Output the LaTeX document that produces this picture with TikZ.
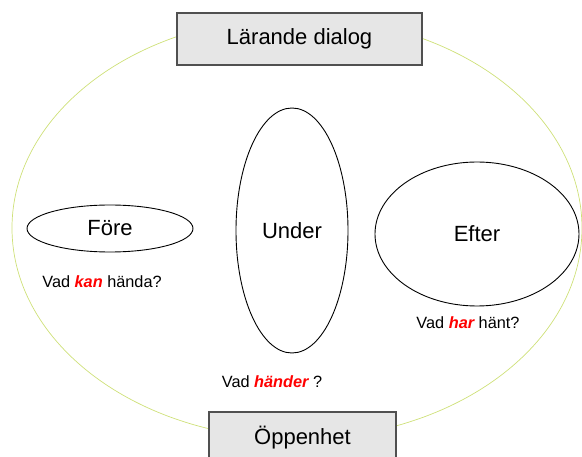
\documentclass[tikz,border=0pt]{standalone}
\usepackage{fontspec}
\setmainfont{Liberation Sans}
\usetikzlibrary{shapes.geometric}
\definecolor{ringgreen}{RGB}{206,224,120}
\definecolor{boxfill}{RGB}{230,230,230}
\definecolor{boxline}{RGB}{80,80,80}
\definecolor{hot}{RGB}{255,0,0}
\tikzset{
  ring/.style={draw=ringgreen, line width=0.7pt, ellipse, inner sep=0pt},
  phase/.style={draw=black, line width=0.9pt, ellipse, inner sep=0pt, font=\fontsize{22}{26}\selectfont},
  labelbox/.style={draw=boxline, fill=boxfill, line width=1.3pt, inner sep=0pt, font=\fontsize{22}{26}\selectfont},
  question/.style={inner sep=0pt, font=\fontsize{16.3}{20}\selectfont},
  em/.style={}
}
\newcommand{\hl}[1]{\textcolor{hot}{\bfseries\itshape #1}}
\begin{document}
\begin{tikzpicture}[x=1pt,y=-1pt]
\useasboundingbox (0,0) rectangle (582,457);
\node[ring, minimum width=570, minimum height=422] (dialogring) at (297,228) {};
\node[labelbox, minimum width=245, minimum height=52] (top) at (299.5,39) {Lärande dialog};
\node[labelbox, minimum width=187, minimum height=52] (bottom) at (302.5,438) {\raisebox{2pt}{Öppenhet}};
\node[phase, minimum width=166, minimum height=47] (fore) at (110,228.5) {Före};
\node[phase, minimum width=112, minimum height=245] (under) at (292,230.5) {Under};
\node[phase, minimum width=204, minimum height=144] (efter) at (477,234) {Efter};
\node[question] (q1) at (102,282) {Vad \hl{kan} hända?};
\node[question] (q2) at (272,382) {Vad \hl{händer} ?};
\node[question] (q3) at (468,323) {Vad \hl{har} hänt?};
\end{tikzpicture}
\end{document}
